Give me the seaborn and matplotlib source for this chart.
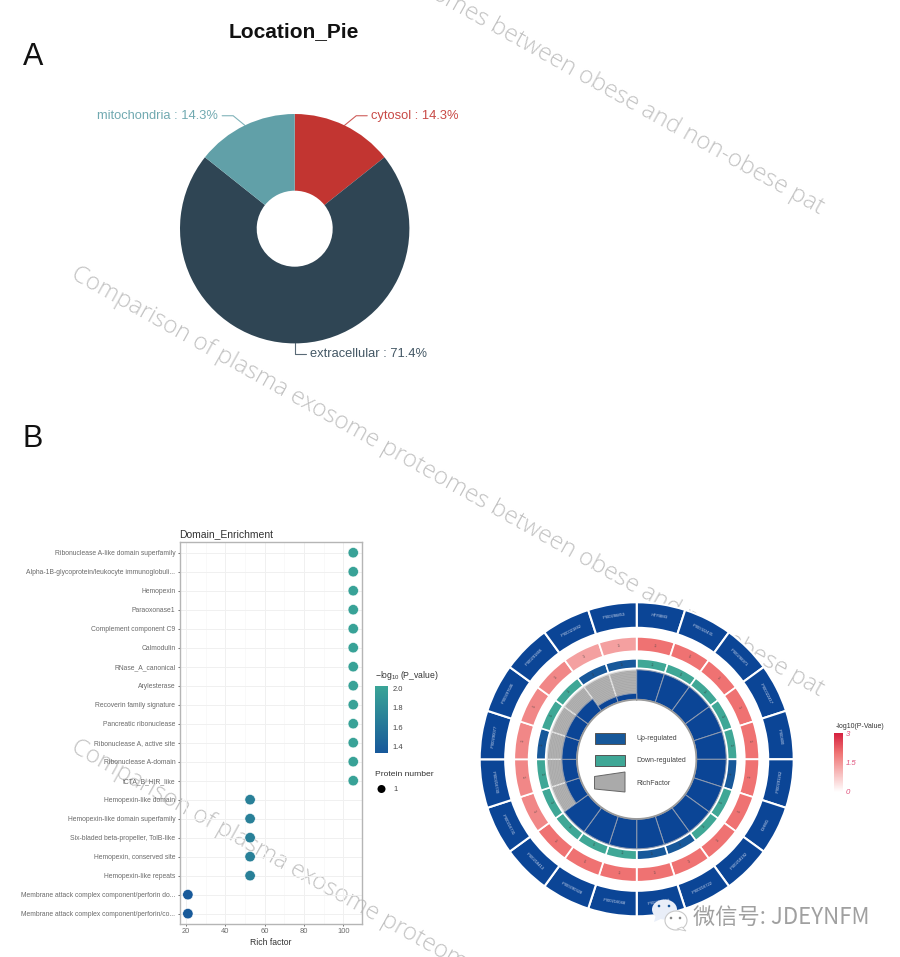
import numpy as np
import pandas as pd
import matplotlib
matplotlib.use("Agg")
import matplotlib.pyplot as plt
import seaborn as sns
from matplotlib.colors import LinearSegmentedColormap, Normalize
from matplotlib.cm import ScalarMappable
from matplotlib.patches import Ellipse, Polygon, Rectangle

# Location pie
pie_labels = ["cytosol", "extracellular", "mitochondria"]
pie_values = [14.3, 71.4, 14.3]
pie_colors = ["#c23531", "#2f4554", "#61a0a8"]

# Domain enrichment
domains = [
    "Ribonuclease A-like domain superfamily",
    "Alpha-1B-glycoprotein/leukocyte immunoglobuli...",
    "Hemopexin",
    "Paraoxonase1",
    "Complement component C9",
    "Calmodulin",
    "RNase_A_canonical",
    "Arylesterase",
    "Recoverin family signature",
    "Pancreatic ribonuclease",
    "Ribonuclease A, active site",
    "Ribonuclease A-domain",
    "tCTA_B_HIR_like",
    "Hemopexin-like domain",
    "Hemopexin-like domain superfamily",
    "Six-bladed beta-propeller, TolB-like",
    "Hemopexin, conserved site",
    "Hemopexin-like repeats",
    "Membrane attack complex component/perforin do...",
    "Membrane attack complex component/perforin/co...",
]
rich_factor = [105] * 13 + [52.6] * 5 + [21] * 2
neg_log_p = [2.0] * 13 + [1.7] * 5 + [1.35] * 2

# Circular plot, clockwise from 12 o'clock
accessions = [
    "HTYBM3", "IPI00022431", "IPI00298971", "IPI00022417", "IPI00400",
    "IPI00291262", "IGHM1", "IPI00218192", "IPI00216722", "IPI00216049",
    "IPI00216048", "IPI00290328", "IPI00218413", "IPI00216731", "IPI00216730",
    "IPI00290077", "IPI00297646", "IPI00291866", "IPI00021842", "IPI00298853",
]
regulation = ["down"] * 5 + ["up"] + ["down"] * 2 + ["up"] * 2 \
    + ["down"] * 5 + ["up"] + ["down"] * 2 + ["up"] * 2
circos_rich = [105] * 13 + [52.6] * 5 + [21] * 2
circos_p = [2.0] * 13 + [1.7] * 5 + [1.35] * 2

W, H = 900, 957
sns.set_theme(style="white")
plt.rcParams["font.family"] = ["Liberation Sans", "DejaVu Sans"]
plt.rcParams["mathtext.fontset"] = "custom"
plt.rcParams["mathtext.rm"] = "Liberation Sans"
plt.rcParams["mathtext.default"] = "regular"

fig = plt.figure(figsize=(W / 100, H / 100), dpi=100, facecolor="white")


def px_axes(left, top, right, bottom, **kw):
    return fig.add_axes([left / W, 1 - bottom / H, (right - left) / W, (bottom - top) / H], **kw)


# watermark layer goes underneath everything
back = px_axes(0, 0, W, H, zorder=0)
back.set_xlim(0, W)
back.set_ylim(H, 0)
back.axis("off")
mark = "Comparison of plasma exosome proteomes between obese and non-obese pat"
for x0, y0 in [(70, -204), (70, 278), (70, 751)]:
    back.text(x0, y0, mark, rotation=-29.2, rotation_mode="anchor", ha="left", va="baseline",
              fontsize=17.4, fontweight="light", color="#c2c2c2", family="Open Sans", clip_on=False)

# top layer for labels in pixel positions
top = px_axes(0, 0, W, H, zorder=5)
top.set_xlim(0, W)
top.set_ylim(H, 0)
top.axis("off")
top.patch.set_alpha(0)

top.text(294, 32, "Location_Pie", ha="center", va="center", fontsize=15, fontweight="bold", color="#111111")
top.text(33, 57, "A", ha="center", va="center", fontsize=22, color="#111111")
top.text(33, 439, "B", ha="center", va="center", fontsize=22, color="#111111")

# A: pie
pie_cx, pie_cy, pie_r = 294.7, 228.7, 114.7
ax_pie = px_axes(pie_cx - 120, pie_cy - 120, pie_cx + 120, pie_cy + 120, zorder=2)
wedges, _ = ax_pie.pie(pie_values, colors=pie_colors, startangle=90, counterclock=False, radius=1,
                       wedgeprops=dict(width=1 - 38 / pie_r, linewidth=0))
ax_pie.set_xlim(-120 / pie_r, 120 / pie_r)
ax_pie.set_ylim(-120 / pie_r, 120 / pie_r)

for w, name, val, col in zip(wedges, pie_labels, pie_values, pie_colors):
    a = np.deg2rad((w.theta1 + w.theta2) / 2)
    x1, y1 = pie_cx + pie_r * np.cos(a), pie_cy - pie_r * np.sin(a)
    x2, y2 = x1 + 27 * np.cos(a), y1 - 10.7 * np.sin(a)
    side = 1 if np.cos(a) > -0.01 else -1
    x3 = x2 + side * 11
    top.plot([x1, x2, x3], [y1, y2, y2], color=col, lw=0.8, alpha=0.8)
    top.text(x3 + side * 4, y2, f"{name} : {val}%", color=col, fontsize=9.3, alpha=0.9,
             ha="left" if side > 0 else "right", va="center")

# B: dot plot
df = pd.DataFrame({"domain": domains, "rich": rich_factor, "p": neg_log_p})
dot_cmap = LinearSegmentedColormap.from_list("dots", ["#17589a", "#3aa597"])
dot_norm = Normalize(1.335, 2.03)

ax = px_axes(179.5, 541.7, 361.7, 924.3, zorder=2)
ax.patch.set_alpha(0)
sns.scatterplot(data=df, x="rich", y="domain", hue="p", palette=dot_cmap, hue_norm=dot_norm,
                s=56, edgecolor="white", linewidth=0.4, legend=False, ax=ax, zorder=3, clip_on=False)
ax.set_xlim(16.75, 109.3)
ax.set_ylim(19.56, -0.58)
ax.set_xticks([20, 40, 60, 80, 100])
ax.set_xticks([30, 50, 70, 90], minor=True)
ax.grid(True, which="major", color="#f0f0f0", lw=0.7)
ax.grid(True, which="minor", axis="x", color="#f5f5f5", lw=0.4)
ax.set_axisbelow(True)
ax.tick_params(axis="both", which="major", length=1.5, width=0.6, color="#555555", labelsize=4.9,
               labelcolor="#6a6a6a", pad=1.5, bottom=True, left=True)
ax.tick_params(axis="x", labelsize=5.4)
ax.tick_params(which="minor", length=0)
ax.set_xlabel("Rich factor", fontsize=6.2, color="#333333", labelpad=1.5)
ax.set_ylabel("")
ax.set_title("Domain_Enrichment", loc="left", fontsize=7.5, color="#333333", pad=3.5)
for s in ax.spines.values():
    s.set_color("#b5b5b5")
    s.set_linewidth(1.0)

# dot plot legends
cax = px_axes(375, 685.7, 388, 753, zorder=2)
cb = fig.colorbar(ScalarMappable(norm=dot_norm, cmap=dot_cmap), cax=cax)
cb.set_ticks([1.4, 1.6, 1.8, 2.0])
cb.ax.set_yticklabels(["1.4", "1.6", "1.8", "2.0"])
cb.ax.tick_params(length=0, labelsize=5.4, labelcolor="#444444", pad=3)
cb.outline.set_visible(False)
top.text(375, 676, r"$-\log_{10}$(P_value)", fontsize=6.2, color="#333333", va="center")
top.text(375, 775, "Protein number", fontsize=6.1, color="#333333", va="center")
top.add_patch(Ellipse((381.5, 789), 8, 8, color="black", lw=0))
top.text(393, 789.5, "1", fontsize=5.4, color="#444444", va="center")

# B: circular plot, one data unit is one pixel
cx, cy = 636.7, 759.3
ax_c = px_axes(cx - 160, cy - 160, cx + 160, cy + 160, projection="polar", zorder=2)
ax_c.set_theta_zero_location("N")
ax_c.set_theta_direction(-1)
ax_c.set_ylim(0, 160)
ax_c.axis("off")
ax_c.patch.set_alpha(0)

n = len(accessions)
step = 2 * np.pi / n
theta = (np.arange(n) + 0.5) * step

ring_cmap = LinearSegmentedColormap.from_list("ring", [(0, "#ffffff"), (0.667, "#ef7272"), (1, "#d5203f")])
ring_norm = Normalize(0, 3)
reg_colors = {"up": "#17589a", "down": "#3fa796"}

ax_c.bar(theta, 25.5, width=step, bottom=131.5, color="#0b4596", edgecolor="white", lw=1.5)
ax_c.bar(theta, 14.5, width=step, bottom=108, color=[ring_cmap(ring_norm(v)) for v in circos_p],
         edgecolor="white", lw=1.3)
ax_c.bar(theta, 9.5, width=step, bottom=91, color=[reg_colors[r] for r in regulation],
         edgecolor="white", lw=1.2)

# rich factor ring: grey track with the value in blue over it
rich_max = max(circos_rich)
rich_h = [29.5 * r / rich_max for r in circos_rich]
ax_c.bar(theta, 29.5, width=step, bottom=60, color="#aaaaaa", edgecolor="#e8e8e8", lw=1.0, zorder=1)
t_grey = np.linspace(13 * step, 2 * np.pi, 120)
for rr in np.arange(62, 89.5, 1.6):
    ax_c.plot(t_grey, np.full_like(t_grey, rr), color="#bdbdbd", lw=0.25, zorder=2)
ax_c.bar(theta, rich_h, width=step, bottom=60, color="#0b4596", edgecolor="#8f9bb0", lw=0.7, zorder=3)

t_all = np.linspace(0, 2 * np.pi, 360)
ax_c.plot(t_all, np.full_like(t_all, 59.6), color="#9a9a9a", lw=1.2, zorder=4)

for t, name, val in zip(theta, accessions, circos_p):
    deg = np.rad2deg(t)
    # text follows the tangent of the ring
    rot = -deg if deg <= 90 or deg >= 270 else 180 - deg
    ax_c.text(t, 144.5, name, rotation=rot, rotation_mode="anchor", ha="center", va="center",
              fontsize=3, color="#cfd9ee")
    ax_c.text(t, 115, "1", rotation=rot, rotation_mode="anchor", ha="center", va="center",
              fontsize=2.6, color="#444444")
    ax_c.text(t, 95.5, "1", rotation=rot, rotation_mode="anchor", ha="center", va="center",
              fontsize=2.6, color="#333333")

# legend in the middle of the ring
top.add_patch(Rectangle((594.5, 732.7), 30.5, 11.3, facecolor="#17589a", edgecolor="#555555", lw=0.7))
top.add_patch(Rectangle((594.5, 755), 30.5, 11, facecolor="#3fa796", edgecolor="#555555", lw=0.7))
top.add_patch(Polygon([(594.5, 776.5), (625, 772), (625, 792), (594.5, 789)], closed=True,
                      facecolor="#aaaaaa", edgecolor="#666666", lw=0.7))
for y, s, x in [(738.7, "Up-regulated", 636.7), (760.7, "Down-regulated", 636.7), (783.5, "RichFactor", 636.2)]:
    top.text(x, y, s, fontsize=5.0, color="#444444", va="center")

# colour bar of the ring
cax2 = px_axes(834, 733, 843, 792, zorder=2)
cb2 = fig.colorbar(ScalarMappable(norm=ring_norm, cmap=ring_cmap), cax=cax2)
cb2.set_ticks([0, 1.5, 3])
cb2.ax.set_yticklabels(["0", "1.5", "3"], style="italic")
cb2.ax.tick_params(length=0, labelsize=5.6, labelcolor="#e0527c", pad=2)
cb2.outline.set_visible(False)
top.text(836, 727, "-log10(P-Value)", fontsize=5.0, color="#333333", va="center")

# account mark in the bottom right corner
top.add_patch(Ellipse((664.5, 909.5), 25, 20, facecolor="#e9eef8", edgecolor="none"))
top.add_patch(Polygon([(656, 915), (654, 922), (663, 918)], closed=True, facecolor="#e9eef8", edgecolor="none"))
top.add_patch(Ellipse((676, 920.5), 22, 19, facecolor="white", edgecolor="#c8c8c8", lw=0.8))
top.add_patch(Polygon([(682, 927), (686, 931), (677, 929)], closed=True, facecolor="white", edgecolor="#c8c8c8", lw=0.6))
for x, y, c in [(659, 906, "#17589a"), (669, 906, "#17589a"), (671, 918, "#888888"), (680, 918, "#888888")]:
    top.add_patch(Ellipse((x, y), 2.6, 2.6, color=c, lw=0))
top.text(693, 917, "微信号: JDEYNFM", fontsize=16, color="#a0a0a0", va="center",
         family=["Noto Sans CJK SC", "DejaVu Sans"])

fig.savefig("out.png", dpi=100)
